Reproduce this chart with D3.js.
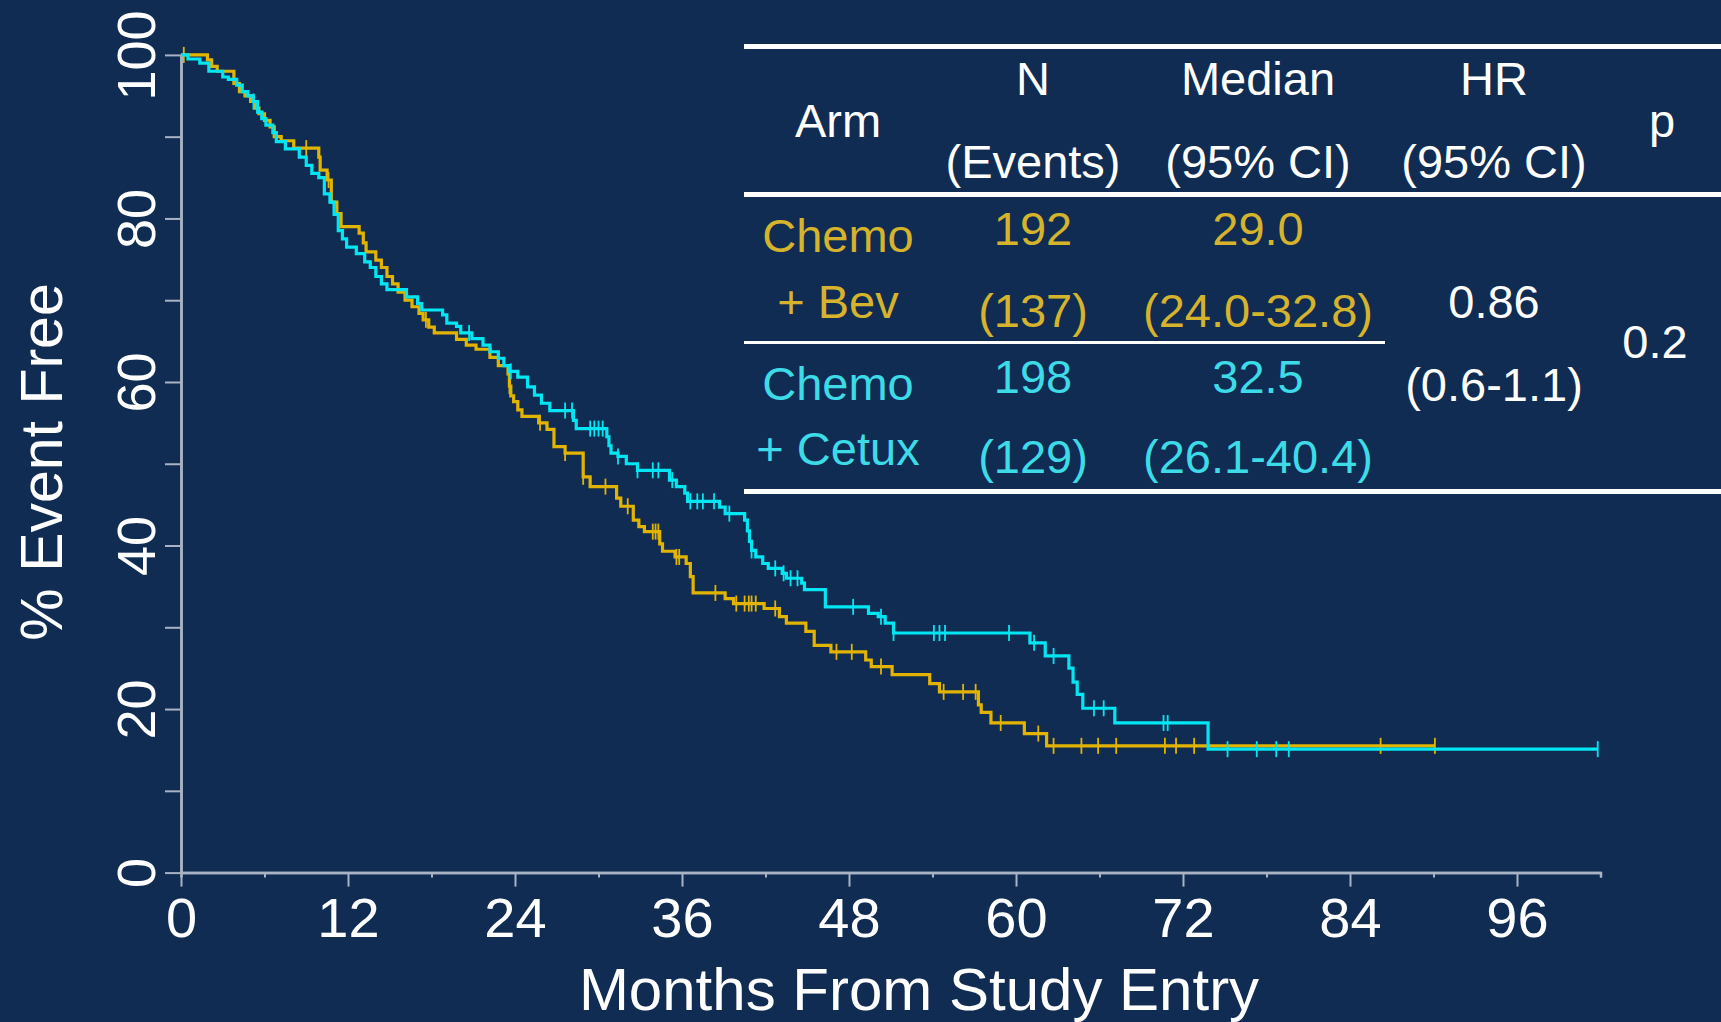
<!DOCTYPE html>
<html>
<head>
<meta charset="utf-8">
<script src="https://cdn.jsdelivr.net/npm/d3@7"></script>
<style>
  html, body { margin: 0; padding: 0; background: #102c52; }
  svg { display: block; font-family: "Liberation Sans", Arial, sans-serif; }
</style>
</head>
<body>
<div id="chart"></div>
<script>
// KM steps: [month, % event free] after each drop
var bevSteps = [[0,100],[1.9,99.4],[2.2,98.6],[2.6,98.0],[3.8,96.5],[4.2,95.5],[4.6,95.0],[5.0,94.3],[5.3,93.5],[5.6,92.8],[6.0,92.0],[6.4,91.2],[6.7,90.0],[7.2,89.5],[8.1,88.6],[9.9,87.5],[10.0,85.9],[10.5,84.7],[10.8,82.0],[11.2,80.6],[11.5,79.0],[12.8,78.2],[13.1,77.0],[13.3,75.9],[14.0,74.9],[14.4,74.0],[14.8,72.9],[15.2,72.0],[15.6,71.0],[16.1,70.0],[16.6,69.2],[17.1,68.4],[17.4,67.6],[17.8,66.7],[18.2,66.0],[19.8,65.2],[20.5,64.5],[21.2,64.0],[22.2,63.0],[22.8,62.0],[23.5,61.0],[23.6,59.5],[23.7,58.3],[23.9,57.6],[24.2,56.6],[24.5,55.8],[25.7,55.0],[26.3,54.2],[26.8,52.1],[27.6,51.3],[28.9,48.4],[29.4,47.2],[31.3,45.8],[31.6,44.8],[32.5,43.1],[32.9,42.3],[33.3,41.7],[34.4,40.2],[34.6,39.3],[35.5,38.6],[36.3,37.8],[36.6,36.2],[36.8,34.2],[39.1,33.5],[39.7,32.9],[41.9,32.3],[43.0,31.3],[43.5,30.5],[44.9,29.5],[45.5,27.8],[46.7,27.0],[49.2,26.0],[49.6,25.2],[51.1,24.2],[53.8,23.1],[54.5,22.1],[57.3,20.5],[57.5,19.6],[58.2,18.3],[60.6,17.0],[62.2,15.5]]
var bevEnd = 90.1
var bevCensor = [0.2,9.0,10.6,17.6,23.6,25.8,27.6,28.9,30.5,32.1,33.9,34.1,34.3,35.6,35.8,38.4,39.9,40.5,40.8,41.0,41.3,42.7,47.1,48.2,50.3,54.8,56.2,57.1,58.9,61.6,62.7,64.7,65.9,67.2,70.7,71.5,72.8,86.2,90.1]

var cetuxSteps = [[0,100],[0.5,99.5],[1.35,99.0],[2.0,98.0],[3.0,97.3],[3.4,97.0],[4.0,96.3],[4.4,95.5],[4.8,95.0],[5.2,94.3],[5.5,93.0],[5.8,92.2],[6.1,91.4],[6.6,90.5],[6.85,89.4],[7.5,88.5],[8.5,87.5],[9.0,86.5],[9.4,85.5],[9.9,85.0],[10.3,83.0],[10.7,82.0],[11.0,80.5],[11.3,78.5],[11.6,77.5],[11.9,76.5],[12.6,75.7],[13.2,74.7],[13.6,74.0],[14.0,72.9],[14.4,72.0],[14.8,71.3],[16.2,70.4],[17.0,69.6],[17.3,68.8],[18.8,68.2],[19.1,67.2],[19.8,66.8],[20.1,66.0],[20.9,65.3],[21.7,64.5],[22.2,63.7],[22.8,62.9],[23.2,62.0],[23.6,61.3],[24.2,60.6],[24.9,59.4],[25.4,58.4],[25.9,57.4],[26.5,56.5],[28.2,55.3],[28.4,54.3],[30.6,53.3],[30.75,52.2],[30.9,51.3],[31.4,50.9],[32.0,50.0],[32.8,49.2],[35.1,48.0],[35.6,47.2],[36.2,46.4],[36.4,45.4],[38.7,44.7],[39.1,43.9],[40.5,43.1],[40.7,41.8],[40.85,40.5],[41.0,39.4],[41.3,38.6],[41.8,37.8],[42.2,37.2],[43.2,36.6],[43.5,36.0],[44.6,35.4],[44.8,34.6],[46.3,32.5],[49.4,31.7],[50.1,31.3],[50.6,30.5],[51.2,29.3],[61.0,28.1],[62.1,26.5],[63.8,25.0],[64.1,23.3],[64.4,21.8],[64.8,20.1],[67.1,18.3],[73.8,15.1]]
var cetuxEnd = 101.8
var cetuxCensor = [5.2,20.7,23.7,27.6,28.1,29.4,29.7,30.0,30.3,31.4,32.8,33.9,34.3,35.3,36.6,37.1,37.5,38.3,39.4,41.0,42.7,43.3,43.8,44.3,48.3,50.3,51.2,54.1,54.5,54.9,59.5,61.3,62.7,65.6,66.3,70.6,70.9,75.2,77.3,78.7,79.6,101.8]

// axis ticks
var xMajor = [0,12,24,36,48,60,72,84,96]
var xMinor = [6,18,30,42,54,66,78,90,102]
var yMajor = [0,20,40,60,80,100]
var yMinor = [10,30,50,70,90]

// table
var headTop = ["N","Median","HR"]
var headBottom = ["(Events)","(95% CI)","(95% CI)"]
var armLine1 = ["Chemo","Chemo"]
var armLine2 = ["+ Bev","+ Cetux"]
var armN = ["192","198"]
var armEvents = ["(137)","(129)"]
var armMedian = ["29.0","32.5"]
var armMedianCI = ["(24.0-32.8)","(26.1-40.4)"]
var hrValue = "0.86"
var hrCI = "(0.6-1.1)"
var pValue = "0.2"

var gold = '#e2b400'
var cyan = '#00e6f2'
var goldText = '#d6b32c'
var cyanText = '#3ddbe8'
var axisCol = '#a9b3c3'

var width = 1721, height = 1022

var svg = d3.select('#chart').append('svg')
  .attr('width', width)
  .attr('height', height)

svg.append('rect').attr('width', width).attr('height', height).attr('fill', '#102c52')

var x = d3.scaleLinear().domain([0, 102]).range([181, 181 + 102 * 1336 / 96])
var y = d3.scaleLinear().domain([0, 100]).range([872.6, 54.9])

// ---- axes ----
var gx = svg.append('g').attr('transform', 'translate(0,' + y(0) + ')')
gx.call(d3.axisBottom(x).tickValues(xMinor).tickSize(5).tickFormat(''))
var gxm = svg.append('g').attr('transform', 'translate(0,' + y(0) + ')')
gxm.call(d3.axisBottom(x).tickValues(xMajor).tickSize(14).tickPadding(11).tickSizeOuter(0))

var gy = svg.append('g').attr('transform', 'translate(' + x(0) + ',0)')
gy.call(d3.axisLeft(y).tickValues(yMinor).tickSize(16).tickFormat('').tickSizeOuter(0))
var gym = svg.append('g').attr('transform', 'translate(' + x(0) + ',0)')
gym.call(d3.axisLeft(y).tickValues(yMajor).tickSize(16).tickSizeOuter(0))

svg.selectAll('.domain').attr('stroke', axisCol).attr('stroke-width', 2.5)
svg.selectAll('.tick line').attr('stroke', axisCol).attr('stroke-width', 2)
gxm.selectAll('.tick text')
  .attr('fill', '#fff').attr('font-size', 56)
  .attr('font-family', '"Liberation Sans", Arial, sans-serif')
gym.selectAll('.tick text')
  .attr('fill', '#fff').attr('font-size', 54)
  .attr('font-family', '"Liberation Sans", Arial, sans-serif')
  .attr('text-anchor', 'middle')
  .attr('x', 0).attr('y', -26).attr('dy', 0)
  .attr('transform', 'rotate(-90)')

svg.append('text')
  .attr('x', 919).attr('y', 1010)
  .attr('text-anchor', 'middle')
  .attr('font-size', 60).attr('fill', '#fff')
  .text('Months From Study Entry')

svg.append('text')
  .attr('transform', 'translate(62,462) rotate(-90)')
  .attr('text-anchor', 'middle')
  .attr('font-size', 59).attr('fill', '#fff')
  .text('% Event Free')

// ---- curves ----
var line = d3.line()
  .x(d => x(d[0]))
  .y(d => y(d[1]))
  .curve(d3.curveStepAfter)

const survAt = (steps, t) => {
  var s = steps[0][1]
  steps.forEach(d => { if (d[0] <= t) s = d[1] })
  return s
}

const drawArm = (steps, end, censor, col) => {
  var pts = steps.concat([[end, steps[steps.length - 1][1]]])
  svg.append('path')
    .datum(pts)
    .attr('d', line)
    .attr('fill', 'none')
    .attr('stroke', col)
    .attr('stroke-width', 3.2)
    .attr('stroke-linejoin', 'miter')

  svg.append('g').selectAll('line')
    .data(censor)
    .enter().append('line')
    .attr('x1', d => x(d)).attr('x2', d => x(d))
    .attr('y1', d => y(survAt(steps, d)) - 8)
    .attr('y2', d => y(survAt(steps, d)) + 8)
    .attr('stroke', col)
    .attr('stroke-width', 1.8)
}

drawArm(bevSteps, bevEnd, bevCensor, gold)
drawArm(cetuxSteps, cetuxEnd, cetuxCensor, cyan)

// ---- table ----
var tbl = svg.append('g').attr('font-size', 47)

tbl.append('rect').attr('x', 744).attr('y', 44).attr('width', 977).attr('height', 5).attr('fill', '#fff')
tbl.append('rect').attr('x', 744).attr('y', 192).attr('width', 977).attr('height', 5).attr('fill', '#fff')
tbl.append('rect').attr('x', 744).attr('y', 341).attr('width', 641).attr('height', 3).attr('fill', '#fff')
tbl.append('rect').attr('x', 744).attr('y', 489).attr('width', 977).attr('height', 5).attr('fill', '#fff')

const cell = (txt, cx, by, col) => {
  tbl.append('text')
    .attr('x', cx).attr('y', by)
    .attr('text-anchor', 'middle')
    .attr('fill', col)
    .text(txt)
}

var colX = [1033, 1258, 1494]
headTop.forEach((t, i) => cell(t, colX[i], 95, '#fff'))
headBottom.forEach((t, i) => cell(t, colX[i], 178, '#fff'))
cell('Arm', 838, 137, '#fff')
cell('p', 1662, 137, '#fff')

var rowCol = [goldText, cyanText]
var rowTop = [252, 400]
var numTop = [245, 393]
var rowBot = [318, 465]
var numBot = [327, 473]
for (var i = 0; i < 2; i++) {
  cell(armLine1[i], 838, rowTop[i], rowCol[i])
  cell(armLine2[i], 838, rowBot[i], rowCol[i])
  cell(armN[i], colX[0], numTop[i], rowCol[i])
  cell(armEvents[i], colX[0], numBot[i], rowCol[i])
  cell(armMedian[i], colX[1], numTop[i], rowCol[i])
  cell(armMedianCI[i], colX[1], numBot[i], rowCol[i])
}
cell(hrValue, colX[2], 318, '#fff')
cell(hrCI, colX[2], 401, '#fff')
cell(pValue, 1655, 358, '#fff')
</script>
</body>
</html>
